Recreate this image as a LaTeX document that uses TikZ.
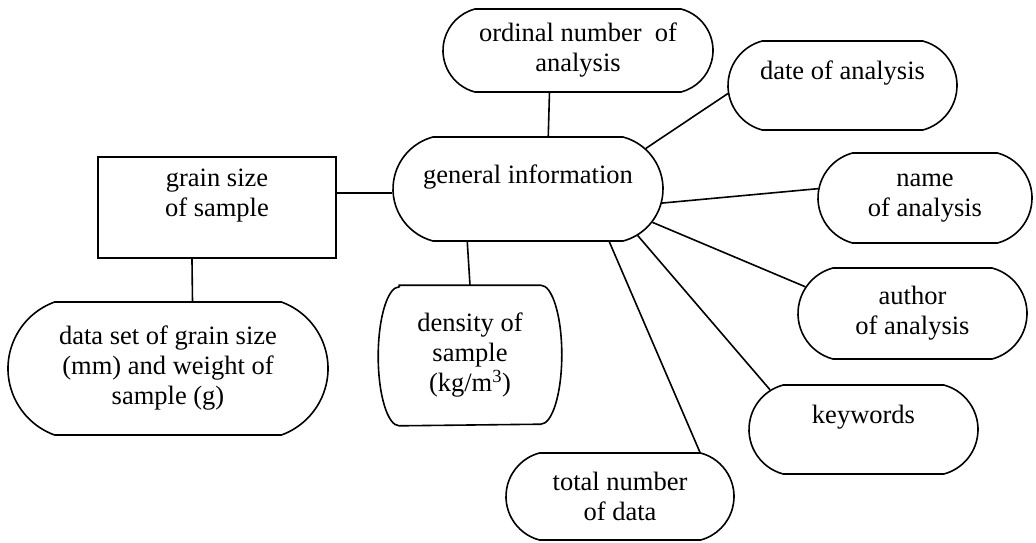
\documentclass[tikz,border=0pt]{standalone}
\usepackage{fontspec}
\setmainfont{Liberation Serif}
\usetikzlibrary{shapes.misc}

\begin{document}
\begin{tikzpicture}[x=1pt, y=-1pt, line width=1.6pt,
    every node/.style={align=center, inner sep=0pt, font=\fontsize{26.5}{30}\selectfont},
    pill/.style={draw, rounded rectangle, rounded rectangle arc length=150},
    sqbox/.style={draw, rectangle},
    bulge/.style={x radius=21pt, y radius=69.5pt}]
    \useasboundingbox (0,0) rectangle (1036,542);

    \node [pill, minimum width=270, minimum height=83] (ORD) at (578,50.5) {ordinal number\ \ of\\ analysis};
    \node [pill, minimum width=229, minimum height=89] (DATE) at (842.5,85.5) {date of analysis\\ \mbox{}};
    \node [pill, minimum width=270, minimum height=104] (GEN) at (528,189) {general information\\ \mbox{}};
    \node [sqbox, minimum width=238, minimum height=101] (GRAIN) at (217,207.5) {grain size\\ of sample\\ \mbox{}};
    \node [pill, minimum width=214, minimum height=90] (NAME) at (925,198) {name\\ of analysis};
    \node [pill, rounded rectangle arc length=140, minimum width=320, minimum height=133] (DATA) at (168,368.5) {data set of grain size\\ (mm) and weight of\\ sample (g)};
    \node [rectangle, minimum width=182, minimum height=139] (DENS) at (470,355.5) {density of\\ sample\\ (kg/m\textsuperscript{3})};
    \node [pill, minimum width=229, minimum height=91] (AUTH) at (912.5,313.5) {author\\ of analysis};
    \node [pill, minimum width=229, minimum height=89] (KEY) at (863.5,429.5) {keywords\\ \mbox{}};
    \node [pill, minimum width=228, minimum height=87] (TOT) at (620,496.5) {total number\\ of data};

    % outline of the density box, sides bowed
    \draw ([xshift=21pt]DENS.north west) -- ([xshift=-21pt]DENS.north east)
        arc [bulge, start angle=90, end angle=-90]
        -- ([xshift=21pt]DENS.south west)
        arc [bulge, start angle=270, end angle=90] -- cycle;

    \path[-] (GEN.69) edge (ORD.236);
    \path[-] (GEN.19.6) edge (DATE.184.2);
    \path[-] (GRAIN.7.4) edge (GRAIN.7.4 -| GEN.west);
    \path[-] (GRAIN.244.6) edge (DATA.70.9);
    \path[-] (GEN.221.9) edge (DENS.north);
    \path[-] (GEN.354.5) edge (NAME.175.2);
    \path[-] (GEN.345.4) edge (AUTH.166.6);
    \path[-] (GEN.337.7) edge (KEY.157);
    \path[-] (GEN.327.8) edge (TOT.29.1);
\end{tikzpicture}
\end{document}
